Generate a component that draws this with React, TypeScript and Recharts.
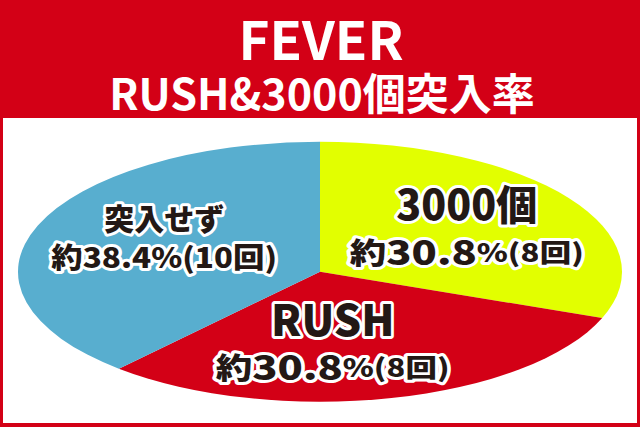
import { Pie, PieChart, Cell } from "recharts";

const CATEGORIES = ["3000個", "RUSH", "突入せず"];
const SHARES = [30.8, 30.8, 38.4];
const COUNTS = [8, 8, 10];
const TITLE_LINES = ["FEVER", "RUSH&3000個突入率"];

const COLORS = ["#e2ff00", "#d30016", "#58aecf"];
const FONT = '"Noto Sans CJK JP", "Noto Sans", sans-serif';
const INK = "#231815";

// ellipse geometry (pie drawn as a circle, then squashed vertically)
const SIZE = 640;
const RX = 302;
const RY = 130;
const K = RY / RX;
const CENTER_Y = 272;

// small per-slice nudges for label blocks, in screen px
const LABEL_NUDGE = [
  [5, -3],
  [-28, -2],
  [5, -9],
];

const pieData = CATEGORIES.map((name, i) => ({
  name,
  value: SHARES[i],
  count: COUNTS[i],
}));

const RAD = Math.PI / 180;

const outlined = {
  fill: INK,
  stroke: "#fff",
  strokeWidth: 6,
  strokeLinejoin: "round" as const,
  paintOrder: "stroke" as const,
  fontFamily: FONT,
  fontWeight: 900,
};

function SliceLabel(props: any) {
  const { cx, cy, midAngle, outerRadius, index } = props;
  const r = outerRadius * 0.57;
  const [nx, ny] = LABEL_NUDGE[index] ?? [0, 0];
  const x = cx + r * Math.cos(-midAngle * RAD) + nx;
  const y = cy + r * Math.sin(-midAngle * RAD) + ny / K;
  const d = pieData[index];
  const small = index === 2;
  const gap = small ? 19.5 : 24.5;
  const big = small ? 30 : index === 0 ? 41 : 43;
  return (
    <g transform={`translate(${x},${y}) scale(1,${1 / K})`}>
      <text
        {...outlined}
        x={0}
        y={-gap}
        textAnchor="middle"
        dominantBaseline="central"
        fontSize={big}
      >
        {d.name}
      </text>
      <text
        {...outlined}
        x={0}
        y={gap}
        textAnchor="middle"
        dominantBaseline="central"
        textLength={small ? 226 : 234}
        lengthAdjust="spacingAndGlyphs"
      >
        <tspan fontSize={small ? 28 : 29}>約</tspan>
        <tspan fontSize={small ? 28 : 33}>{d.value.toFixed(1)}</tspan>
        <tspan fontSize={small ? 28 : 25}>%({d.count}回)</tspan>
      </text>
    </g>
  );
}

export default function App() {
  return (
    <div
      style={{
        position: "absolute",
        left: 0,
        top: 0,
        width: 640,
        height: 427,
        background: "#d30016",
        overflow: "hidden",
      }}
    >
      <div
        style={{
          position: "absolute",
          left: 3,
          top: 118,
          width: 634,
          height: 305,
          background: "#fff",
        }}
      />
      <svg
        width={640}
        height={130}
        style={{ position: "absolute", left: 0, top: 0 }}
      >
        <text
          x={321}
          y={37}
          textAnchor="middle"
          dominantBaseline="central"
          fill="#fff"
          fontFamily={FONT}
          fontWeight={700}
          fontSize={53}
        >
          {TITLE_LINES[0]}
        </text>
        <text
          x={322}
          y={91}
          textAnchor="middle"
          dominantBaseline="central"
          fill="#fff"
          fontFamily={FONT}
          fontWeight={700}
          fontSize={43}
        >
          {TITLE_LINES[1]}
        </text>
      </svg>
      <div
        style={{
          position: "absolute",
          left: 0,
          top: CENTER_Y - (SIZE / 2) * K,
          width: SIZE,
          height: SIZE,
          transform: `scaleY(${K})`,
          transformOrigin: "0 0",
        }}
      >
        <PieChart width={SIZE} height={SIZE} margin={{ top: 0, right: 0, bottom: 0, left: 0 }}>
          <Pie
            data={pieData}
            dataKey="value"
            nameKey="name"
            cx={SIZE / 2}
            cy={SIZE / 2}
            outerRadius={RX}
            startAngle={90}
            endAngle={-270}
            stroke="none"
            labelLine={false}
            label={SliceLabel}
            isAnimationActive={false}
          >
            {pieData.map((d, i) => (
              <Cell key={d.name} fill={COLORS[i]} />
            ))}
          </Pie>
        </PieChart>
      </div>
    </div>
  );
}
